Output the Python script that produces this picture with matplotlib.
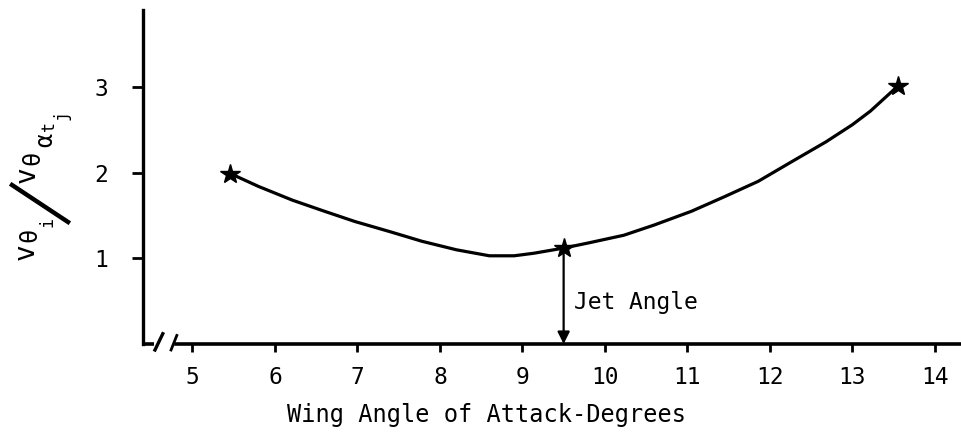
import matplotlib
matplotlib.use("Agg")
import matplotlib.pyplot as plt
import numpy as np

plt.rcParams['font.family'] = ['DejaVu Sans Mono']

# hand-faired curve through the three measured points
curve_x = [5.46, 5.8, 6.21, 6.6, 6.97, 7.4, 7.78, 8.2, 8.6, 8.9, 9.14, 9.5,
           9.8, 10.23, 10.6, 11.05, 11.45, 11.86, 12.25, 12.68, 13.0, 13.22, 13.55]
curve_y = [1.99, 1.84, 1.68, 1.55, 1.43, 1.31, 1.20, 1.10, 1.03, 1.03, 1.06, 1.12,
           1.18, 1.27, 1.39, 1.55, 1.72, 1.90, 2.12, 2.36, 2.56, 2.72, 3.01]

# measured points
pts_x = [5.46, 9.5, 13.55]
pts_y = [1.99, 1.12, 3.01]

jet_angle = 9.5
xticks = [5, 6, 7, 8, 9, 10, 11, 12, 13, 14]
yticks = [1, 2, 3]

W, H = 962, 446
fig = plt.figure(figsize=(W/100, H/100), dpi=100)
ax = fig.add_axes([143/W, (H-344)/H, 1-143/W, (344-10)/H])

ax.plot(curve_x, curve_y, color='black', lw=2.3, solid_capstyle='round',
        solid_joinstyle='round')
ax.plot(pts_x, pts_y, ls='none', marker='*', ms=15, color='black', mec='black')

# jet angle arrow down to the axis
ax.annotate('', xy=(jet_angle, 0.0), xytext=(jet_angle, 1.08),
            arrowprops=dict(arrowstyle='-|>', color='black', lw=1.6,
                            mutation_scale=18, shrinkA=0, shrinkB=0))
ax.text(jet_angle + 0.12, 0.48, 'Jet Angle', fontsize=16.5, va='center', ha='left')

ax.set_xlim(4.4, 14.33)
ax.set_ylim(0, 3.9)

for side in ['top', 'right']:
    ax.spines[side].set_visible(False)
ax.spines['left'].set_linewidth(2.4)
ax.spines['bottom'].set_linewidth(2.6)
ax.spines['bottom'].set_bounds(4.8, 14.33)

# axis break marks near the origin
ax.plot([4.4, 4.53], [0, 0], color='black', lw=2.6, clip_on=False, solid_capstyle='butt')
ax.plot([4.545, 4.64], [-0.07, 0.12], color='black', lw=2.4, clip_on=False)
ax.plot([4.74, 4.81], [-0.07, 0.10], color='black', lw=2.0, clip_on=False)

ax.set_xticks(xticks)
ax.set_yticks(yticks)
ax.tick_params(axis='x', direction='out', length=6, width=2, labelsize=16.5, pad=10)
ax.tick_params(axis='y', direction='out', length=8, width=2, labelsize=16.5, pad=17)

fig.text(487/W, 1-415/H, 'Wing Angle of Attack-Degrees', fontsize=17,
         ha='center', va='center')

# ratio label, typed character by character as a staircase
def glyph(s, x, y, size):
    fig.text(x/W, 1-y/H, s, rotation=90, fontsize=size, ha='center', va='center')

glyph('v', 25.5, 251.5, 20)
glyph('θ', 29, 234.5, 17)
glyph('i', 47, 222, 12)
glyph('v', 26.5, 174.5, 20)
glyph('θ', 32, 157.5, 17)
glyph('α', 45, 140, 17)
glyph('t', 49, 126, 12)
glyph('j', 62, 115, 12)
fig.add_artist(plt.Line2D([12/W, 68/W], [1-185/H, 1-222/H], color='black', lw=3.2))

fig.savefig('out.png', dpi=100)
